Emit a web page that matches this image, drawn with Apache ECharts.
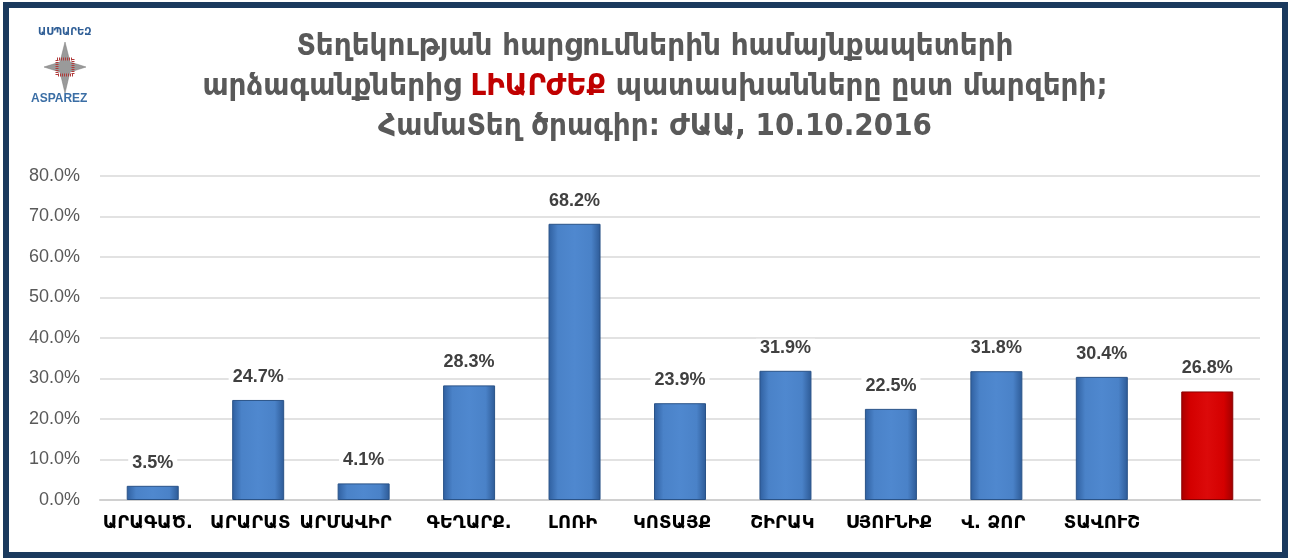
<!DOCTYPE html>
<html>
<head>
<meta charset="utf-8">
<script src="https://cdn.jsdelivr.net/npm/echarts@6/dist/echarts.min.js"></script>
<style>
  html, body { margin: 0; padding: 0; background: #fff; }
  #chart { width: 1291px; height: 560px; }
</style>
</head>
<body>
<div id="chart"></div>
<script>
var categories = ["ԱՐԱԳԱԾ.", "ԱՐԱՐԱՏ", "ԱՐՄԱՎԻՐ", "ԳԵՂԱՐՔ.", "ԼՈՌԻ", "ԿՈՏԱՅՔ", "ՇԻՐԱԿ", "ՍՅՈՒՆԻՔ", "Վ. ՁՈՐ", "ՏԱՎՈՒՇ", ""];
var values = [3.5, 24.7, 4.1, 28.3, 68.2, 23.9, 31.9, 22.5, 31.8, 30.4, 26.8];
var highlightIndex = 10; // total bar drawn in red
// the original labels sit a little left of their bars
var labelNudge = [5, 8, 18, 0, 2, 8, 3, 2, 3, 0, 0];

var myChart = echarts.init(document.getElementById("chart"));

var blueFill = new echarts.graphic.LinearGradient(0, 0, 1, 0, [
  { offset: 0, color: "#2f5f9f" },
  { offset: 0.18, color: "#4a82c8" },
  { offset: 0.5, color: "#4f88cf" },
  { offset: 0.82, color: "#4a82c8" },
  { offset: 1, color: "#2d5a96" }
]);
var redFill = new echarts.graphic.LinearGradient(0, 0, 1, 0, [
  { offset: 0, color: "#a80000" },
  { offset: 0.18, color: "#d40000" },
  { offset: 0.5, color: "#dc0a0a" },
  { offset: 0.82, color: "#d40000" },
  { offset: 1, color: "#a00000" }
]);

var barData = values.map(function (v, i) {
  return {
    value: v,
    itemStyle: {
      color: i === highlightIndex ? redFill : blueFill,
      borderColor: i === highlightIndex ? "#8a0000" : "#2a5388",
      borderWidth: 1
    }
  };
});

var catData = categories.map(function (c, i) {
  return { value: c, textStyle: { padding: [0, labelNudge[i] * 2, 0, 0] } };
});

myChart.setOption({
  animation: false,
  backgroundColor: "#fff",
  title: {
    top: 22,
    textAlign: "center",
    left: 650,
    text:
      "{a|Տեղեկության հարցումներին համայնքապետերի}\n" +
      "{a|արձագանքներից }{r|ԼԻԱՐԺԵՔ}{a| պատասխանները ըստ մարզերի;}\n" +
      "{a|ՀամաՏեղ ծրագիր: ԺԱԱ, 10.10.2016}",
    textStyle: {
      rich: {
        a: { fontFamily: "DejaVu Sans Condensed", fontWeight: "bold", fontSize: 31, color: "#595959", lineHeight: 40 },
        r: { fontFamily: "DejaVu Sans Condensed", fontWeight: "bold", fontSize: 31, color: "#c00000", lineHeight: 40 }
      }
    }
  },
  grid: { left: 100, right: 31, top: 176, bottom: 60 },
  xAxis: {
    type: "category",
    data: catData,
    axisTick: { show: false },
    axisLine: { lineStyle: { color: "#d0d0d0", width: 2 } },
    axisLabel: {
      interval: 0,
      margin: 14,
      color: "#000",
      fontFamily: "DejaVu Sans",
      fontWeight: "bold",
      fontSize: 18
    }
  },
  yAxis: {
    type: "value",
    min: 0,
    max: 80,
    interval: 10,
    axisLine: { show: false },
    axisTick: { show: false },
    splitLine: { lineStyle: { color: "#d9d9d9", width: 1.5 } },
    axisLabel: {
      margin: 20,
      color: "#595959",
      fontFamily: "Liberation Sans",
      fontSize: 18,
      formatter: function (v) { return v.toFixed(1) + "%"; }
    }
  },
  series: [
    {
      type: "bar",
      data: barData,
      barWidth: 52,
      label: {
        show: true,
        position: "top",
        distance: 14,
        color: "#404040",
        fontFamily: "Liberation Sans",
        fontWeight: "bold",
        fontSize: 18,
        backgroundColor: "#fff",
        padding: [0, 4],
        formatter: function (p) { return p.value.toFixed(1) + "%"; }
      }
    }
  ],
  graphic: [
    {
      type: "rect",
      shape: { x: 6, y: 5, width: 1279, height: 550 },
      style: { fill: "none", stroke: "#1a3a5e", lineWidth: 6 },
      z: 100
    },
    {
      type: "text",
      left: 38, top: 27,
      style: { text: "ԱՍՊԱՐԵԶ", fill: "#2f5e96", font: "bold 10px DejaVu Sans" }
    },
    {
      type: "polygon",
      shape: { points: [[65, 42], [70, 62], [86, 67], [70, 72], [65, 93], [60, 72], [44, 67], [60, 62]] },
      style: { fill: "#9a9a9a", stroke: "#7a7a7a", lineWidth: 0.5 }
    },
    {
      type: "rect",
      shape: { x: 57, y: 59, width: 16, height: 16 },
      style: { fill: "none", stroke: "#b03a3a", lineWidth: 3, lineDash: [1, 1] }
    },
    {
      type: "text",
      left: 31, top: 93,
      style: { text: "ASPAREZ", fill: "#3b6ea5", font: "bold 12px Liberation Sans" }
    }
  ]
});

window.addEventListener("resize", function () {
  myChart.resize();
});
</script>
</body>
</html>
